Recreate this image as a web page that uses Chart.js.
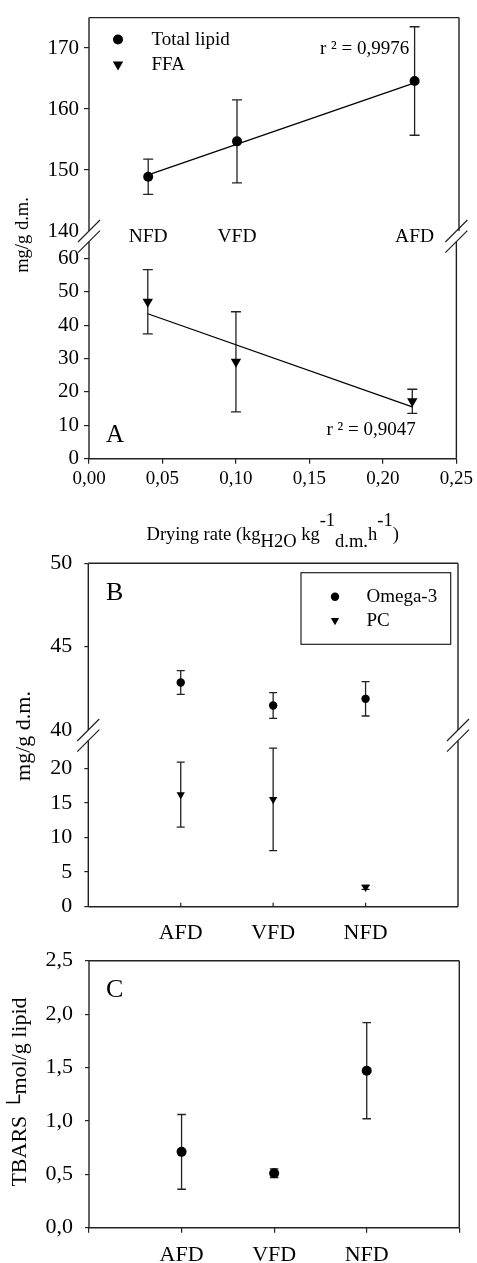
<!DOCTYPE html>
<html>
<head>
<meta charset="utf-8">
<script src="https://cdn.jsdelivr.net/npm/chart.js@4.4.1/dist/chart.umd.min.js"></script>
<style>
  html, body { margin: 0; padding: 0; background: #fff; }
  #fig { position: relative; width: 477px; height: 1263px; overflow: hidden; background: #fff; }
  #fig canvas { position: absolute; left: 0; top: 0; }
</style>
</head>
<body>
<div id="fig">
  <canvas id="aTop" width="477" height="1263"></canvas>
  <canvas id="aBottom" width="477" height="1263"></canvas>
  <canvas id="bTop" width="477" height="1263"></canvas>
  <canvas id="bBottom" width="477" height="1263"></canvas>
  <canvas id="cPanel" width="477" height="1263"></canvas>
</div>
<script>
// ---------- Panel A: lipids vs drying rate ----------
const dryingRate = [0.04, 0.10, 0.22];
const methodsA = ['NFD', 'VFD', 'AFD'];
const totalLipid = [148.9, 154.7, 164.6];
const totalLipidSd = [2.9, 6.8, 8.9];
const ffa = [47.0, 29.0, 17.2];
const ffaSd = [9.6, 15.0, 3.6];
// fitted lines, value at the first and last drying rate
const totalLipidFit = [149.2, 164.3];
const ffaFit = [43.4, 15.5];
const lipidTicks = [140, 150, 160, 170];
const ffaTicks = [0, 10, 20, 30, 40, 50, 60];
const rateTicks = [0, 0.05, 0.10, 0.15, 0.20, 0.25];

// ---------- Panel B: omega-3 and PC ----------
const methodsBC = ['AFD', 'VFD', 'NFD'];
const methodPos = [1, 2, 3];
const omega3 = [42.85, 41.47, 41.87];
const omega3Sd = [0.71, 0.77, 1.03];
const pc = [16.2, 15.5, 2.8];
const pcSd = [4.7, 7.4, 0.3];
const omegaTicks = [40, 45, 50];
const pcTicks = [0, 5, 10, 15, 20];

// ---------- Panel C: TBARS ----------
const tbars = [0.71, 0.51, 1.47];
const tbarsSd = [0.35, 0.04, 0.45];
const tbarsTicks = [0, 0.5, 1.0, 1.5, 2.0, 2.5];
const methodTicksC = [0, 1, 2, 3, 4];

// ---------- drawing setup ----------
const PAGE_W = 477, PAGE_H = 1263;
const SERIF = '"Liberation Serif", "Times New Roman", serif';
const INK = '#000';
const LINE = '#222';
Chart.defaults.font.family = SERIF;
Chart.defaults.color = INK;

const comma = (v, d) => v.toFixed(d).replace('.', ',');
const pts = (xs, ys) => xs.map((x, i) => ({ x, y: ys[i] }));

function txt(ctx, s, x, y, size, o = {}) {
  ctx.save();
  ctx.font = `${size}px ${SERIF}`;
  ctx.fillStyle = o.color || INK;
  ctx.textAlign = o.align || 'left';
  ctx.textBaseline = o.baseline || 'middle';
  if (o.rotate) { ctx.translate(x, y); ctx.rotate(o.rotate); ctx.fillText(s, 0, 0); }
  else ctx.fillText(s, x, y);
  ctx.restore();
}

function marker(ctx, style, r, x, y) {
  ctx.save();
  ctx.fillStyle = INK;
  ctx.strokeStyle = INK;
  if (Chart.helpers && Chart.helpers.drawPoint) {
    Chart.helpers.drawPoint(ctx, { pointStyle: style, radius: r, rotation: style === 'triangle' ? 180 : 0, borderWidth: 0 }, x, y);
  } else {
    ctx.beginPath();
    if (style === 'circle') ctx.arc(x, y, r, 0, Math.PI * 2);
    else { ctx.moveTo(x, y + r); ctx.lineTo(x - r * 0.866, y - r / 2); ctx.lineTo(x + r * 0.866, y - r / 2); ctx.closePath(); }
    ctx.fill();
  }
  ctx.restore();
}

// vertical error bars (mean ± sd) for any dataset carrying an errorBars array
const errorBarPlugin = {
  id: 'errorBars',
  beforeDatasetsDraw(chart) {
    const ctx = chart.ctx, xs = chart.scales.x, ys = chart.scales.y;
    chart.data.datasets.forEach(ds => {
      if (!ds.errorBars) return;
      const cap = ds.errorCap || 5;
      ctx.save();
      ctx.strokeStyle = LINE;
      ctx.lineWidth = 1.3;
      ds.data.forEach((p, i) => {
        const sd = ds.errorBars[i];
        const x = xs.getPixelForValue(p.x);
        const yHi = ys.getPixelForValue(p.y + sd);
        const yLo = ys.getPixelForValue(p.y - sd);
        ctx.beginPath();
        ctx.moveTo(x, yHi); ctx.lineTo(x, yLo);
        ctx.moveTo(x - cap, yHi); ctx.lineTo(x + cap, yHi);
        ctx.moveTo(x - cap, yLo); ctx.lineTo(x + cap, yLo);
        ctx.stroke();
      });
      ctx.restore();
    });
  }
};
Chart.register(errorBarPlugin);

// plot frame on the chosen sides of the chart area
function frame(sides) {
  return {
    id: 'frameSides',
    afterDatasetsDraw(chart) {
      const { left, right, top, bottom } = chart.chartArea;
      const ctx = chart.ctx;
      ctx.save();
      ctx.strokeStyle = LINE;
      ctx.lineWidth = 1.4;
      ctx.beginPath();
      if (sides.includes('left')) { ctx.moveTo(left, top); ctx.lineTo(left, bottom); }
      if (sides.includes('right')) { ctx.moveTo(right, top); ctx.lineTo(right, bottom); }
      if (sides.includes('top')) { ctx.moveTo(left, top); ctx.lineTo(right, top); }
      if (sides.includes('bottom')) { ctx.moveTo(left, bottom); ctx.lineTo(right, bottom); }
      ctx.stroke();
      ctx.restore();
    }
  };
}

// "//" axis-break marks on both sides, above the lower section of a panel
function breakMarks(gap) {
  return {
    id: 'axisBreak',
    afterDraw(chart) {
      const { left, right, top } = chart.chartArea;
      const ctx = chart.ctx, h = 11;
      ctx.save();
      ctx.strokeStyle = LINE;
      ctx.lineWidth = 1.2;
      ctx.beginPath();
      [left, right].forEach(cx => {
        [top - gap, top].forEach(cy => {
          ctx.moveTo(cx - h, cy + h);
          ctx.lineTo(cx + h, cy - h);
        });
      });
      ctx.stroke();
      ctx.restore();
    }
  };
}

function decorate(id, fn) {
  return { id, afterDraw(chart) { fn(chart, chart.ctx, chart.chartArea); } };
}

const Y_W = 80, X_H = 45;

function section(canvasId, area, spec) {
  const xShown = spec.xTicks !== undefined;
  const yTickVals = spec.yTicks;
  return new Chart(document.getElementById(canvasId), {
    type: 'scatter',
    data: { datasets: spec.datasets },
    options: {
      responsive: false,
      animation: false,
      devicePixelRatio: 1,
      events: [],
      layout: {
        padding: {
          left: area.left - Y_W,
          right: PAGE_W - area.right,
          top: area.top,
          bottom: PAGE_H - area.bottom - (xShown ? X_H : 0)
        }
      },
      plugins: { legend: { display: false }, tooltip: { enabled: false } },
      scales: {
        x: {
          type: 'linear',
          min: spec.xMin, max: spec.xMax,
          display: xShown,
          afterFit: s => { s.height = xShown ? X_H : 0; },
          afterBuildTicks: s => { if (xShown) s.ticks = spec.xTicks.map(v => ({ value: v })); },
          border: { display: false },
          grid: {
            drawOnChartArea: false,
            drawTicks: spec.xTickMarks !== false,
            tickLength: 5,
            color: LINE,
            lineWidth: 1.2
          },
          ticks: {
            autoSkip: false, maxRotation: 0, minRotation: 0,
            padding: spec.xPad,
            font: { size: spec.xFont },
            color: INK,
            callback: spec.xLabel
          }
        },
        y: {
          type: 'linear',
          min: spec.yMin, max: spec.yMax,
          afterFit: s => { s.width = Y_W; },
          afterBuildTicks: s => { s.ticks = yTickVals.map(v => ({ value: v })); },
          border: { display: false },
          grid: {
            drawOnChartArea: false,
            drawTicks: true,
            tickLength: spec.yTickLen,
            lineWidth: 1.2,
            color: c => (spec.yNoMark && c.tick && spec.yNoMark.includes(c.tick.value)) ? 'rgba(0,0,0,0)' : LINE
          },
          ticks: {
            autoSkip: false,
            padding: spec.yPad,
            font: { size: spec.yFont },
            color: INK,
            callback: spec.yLabel || (v => String(v))
          }
        }
      }
    },
    plugins: spec.plugins
  });
}

const circleDs = (data, sd, r, cap) => ({
  data, errorBars: sd, errorCap: cap,
  pointStyle: 'circle', pointRadius: r, pointBackgroundColor: INK, pointBorderWidth: 0, showLine: false
});
const triangleDs = (data, sd, r, cap) => ({
  data, errorBars: sd, errorCap: cap,
  pointStyle: 'triangle', pointRotation: 180, pointRadius: r, pointBackgroundColor: INK, pointBorderWidth: 0, showLine: false
});
const fitDs = (xs, ys) => ({
  data: pts(xs, ys), showLine: true, pointRadius: 0, borderColor: INK, borderWidth: 1.3, fill: false
});

// ---------- Panel A, upper section: total lipid ----------
section('aTop', { left: 89, right: 459, top: 15, bottom: 231 }, {
  xMin: 0, xMax: 0.25, yMin: 140, yMax: 175,
  yTicks: lipidTicks, yNoMark: [140], yTickLen: 5, yPad: 5, yFont: 21,
  datasets: [
    circleDs(pts(dryingRate, totalLipid), totalLipidSd, 5, 5),
    fitDs([dryingRate[0], dryingRate[dryingRate.length - 1]], totalLipidFit)
  ],
  plugins: [
    frame(['left', 'right', 'top']),
    decorate('panelAUpperText', (chart, ctx, a) => {
      const xs = chart.scales.x;
      methodsA.forEach((m, i) => txt(ctx, m, xs.getPixelForValue(dryingRate[i]), a.bottom + 6, 19.5, { align: 'center' }));
      marker(ctx, 'circle', 5, 118, 39.5);
      txt(ctx, 'Total lipid', 151.5, 40, 19);
      marker(ctx, 'triangle', 6, 118, 64.5);
      txt(ctx, 'FFA', 151.5, 65.5, 19);
      txt(ctx, 'r \u00b2 = 0,9976', 320, 49, 19);
    })
  ]
});

// ---------- Panel A, lower section: free fatty acids ----------
const rateTitle = [
  ['Drying rate (kg', 0], ['H2O', 7], [' kg', 0], ['-1', -14], ['d.m.', 7], ['h', 0], ['-1', -14], [')', 0]
];
section('aBottom', { left: 89, right: 459, top: 241.6, bottom: 458.7 }, {
  xMin: 0, xMax: 0.25, xTicks: rateTicks, xPad: 4, xFont: 19,
  xLabel: v => comma(v, 2),
  yMin: 0, yMax: 65,
  yTicks: ffaTicks, yTickLen: 5, yPad: 5, yFont: 21,
  datasets: [
    triangleDs(pts(dryingRate, ffa), ffaSd, 6, 5),
    fitDs([dryingRate[0], dryingRate[dryingRate.length - 1]], ffaFit)
  ],
  plugins: [
    frame(['left', 'right', 'bottom']),
    breakMarks(10.6),
    decorate('panelALowerText', (chart, ctx, a) => {
      txt(ctx, 'A', a.left + 17, a.bottom - 23, 25);
      txt(ctx, 'r \u00b2 = 0,9047', 326.5, 430, 19);
      txt(ctx, 'mg/g d.m.', 28, 235, 18.5, { align: 'center', baseline: 'alphabetic', rotate: -Math.PI / 2 });
      // axis title with sub- and superscripts
      ctx.save();
      const size = 18.5;
      ctx.font = `${size}px ${SERIF}`;
      const total = rateTitle.reduce((w, [s]) => w + ctx.measureText(s).width, 0);
      let x = (a.left + a.right) / 2 - total / 2;
      const base = 539.5;
      rateTitle.forEach(([s, dy]) => {
        txt(ctx, s, x, base + dy, size, { baseline: 'alphabetic' });
        x += ctx.measureText(s).width;
      });
      ctx.restore();
    })
  ]
});

// ---------- Panel B, upper section: omega-3 ----------
section('bTop', { left: 88.3, right: 458, top: 563.3, bottom: 730 }, {
  xMin: 0, xMax: 4, yMin: 40, yMax: 50,
  yTicks: omegaTicks, yNoMark: [40], yTickLen: 4, yPad: 12, yFont: 22,
  datasets: [circleDs(pts(methodPos, omega3), omega3Sd, 4.2, 4)],
  plugins: [
    frame(['left', 'right', 'top']),
    decorate('panelBUpperText', (chart, ctx) => {
      txt(ctx, 'B', 106, 593, 26);
      ctx.save();
      ctx.strokeStyle = LINE;
      ctx.lineWidth = 1.2;
      ctx.strokeRect(301, 572.7, 149.7, 71.6);
      ctx.restore();
      marker(ctx, 'circle', 4.2, 335, 596.7);
      txt(ctx, 'Omega-3', 366.5, 597, 19);
      marker(ctx, 'triangle', 4.8, 335, 620.5);
      txt(ctx, 'PC', 366.5, 621.5, 19);
    })
  ]
});

// ---------- Panel B, lower section: phosphatidylcholine ----------
section('bBottom', { left: 88.3, right: 458, top: 740.6, bottom: 906.7 }, {
  xMin: 0, xMax: 4, xTicks: methodPos, xPad: 13, xFont: 22, xTickMarks: false,
  xLabel: v => methodsBC[methodPos.indexOf(v)],
  yMin: 0, yMax: 24,
  yTicks: pcTicks, yTickLen: 4, yPad: 12, yFont: 22,
  datasets: [triangleDs(pts(methodPos, pc), pcSd, 4.8, 4)],
  plugins: [
    frame(['left', 'right', 'bottom']),
    breakMarks(10.6),
    decorate('panelBLowerText', (chart, ctx, a) => {
      const xs = chart.scales.x;
      ctx.save();
      ctx.strokeStyle = LINE;
      ctx.lineWidth = 1.2;
      ctx.beginPath();
      methodPos.forEach(v => {
        const x = xs.getPixelForValue(v);
        ctx.moveTo(x, a.bottom); ctx.lineTo(x, a.bottom - 4);
      });
      ctx.stroke();
      ctx.restore();
      txt(ctx, 'mg/g d.m.', 30, 736, 22, { align: 'center', baseline: 'alphabetic', rotate: -Math.PI / 2 });
    })
  ]
});

// ---------- Panel C: TBARS ----------
section('cPanel', { left: 89, right: 459.3, top: 960.7, bottom: 1227.7 }, {
  xMin: 0, xMax: 4, xTicks: methodTicksC, xPad: 9, xFont: 22,
  xLabel: v => (methodPos.includes(v) ? methodsBC[methodPos.indexOf(v)] : ''),
  yMin: 0, yMax: 2.5,
  yTicks: tbarsTicks, yTickLen: 4, yPad: 12, yFont: 22,
  yLabel: v => comma(v, 1),
  datasets: [circleDs(pts(methodPos, tbars), tbarsSd, 5, 4.3)],
  plugins: [
    frame(['left', 'right', 'top', 'bottom']),
    decorate('panelCText', (chart, ctx) => {
      txt(ctx, 'C', 106, 990, 26);
      txt(ctx, 'TBARS \u2514mol/g lipid', 25.5, 1092, 22, { align: 'center', baseline: 'alphabetic', rotate: -Math.PI / 2 });
    })
  ]
});
</script>
</body>
</html>
